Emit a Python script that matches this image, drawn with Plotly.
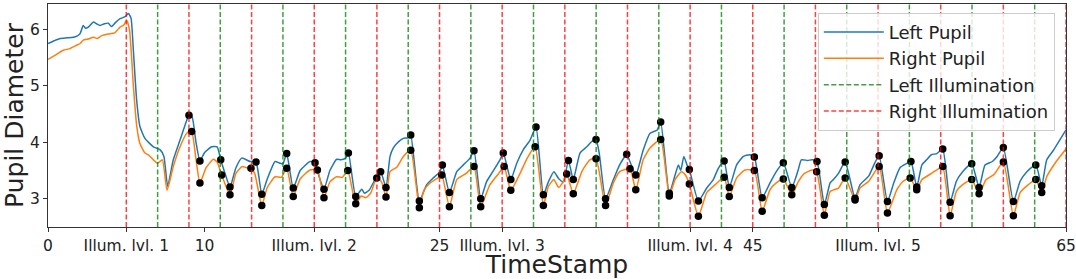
import plotly.graph_objects as go

# ---------------- data ----------------
left_t = [0, 0.4, 0.77, 1.2, 1.62, 1.85, 2.04, 2.25, 2.4, 2.57, 2.9, 3.1, 3.32, 3.6, 3.85, 4.05, 4.3, 4.6, 4.9, 5.13,
          5.3, 5.45, 5.66, 5.87, 6.19, 6.73, 7.15, 7.4, 7.64, 8.0, 8.43, 8.86, 9.0, 9.2, 9.45, 9.7, 10.0, 10.45, 10.8,
          11.03, 11.3, 11.62, 12.0, 12.37, 12.9, 13.28, 13.65, 14.0, 14.5, 14.8, 15.0, 15.24, 15.66, 16.1, 16.73,
          17.05, 17.3, 17.62, 18.0, 18.43, 18.7, 19.0, 19.18, 19.65, 20.03, 20.2, 20.5, 20.9, 21.24, 21.58, 21.84,
          22.05, 22.27, 22.69, 23.0, 23.16, 23.71, 24.18, 24.6, 25.03, 25.18, 25.63, 26.1, 26.52, 26.95, 27.2, 27.63,
          28.0, 28.4, 28.86, 29.07, 29.55, 29.93, 30.35, 30.78, 31.16, 31.63, 31.95, 32.3, 32.6, 32.9, 33.23, 33.54,
          33.97, 34.4, 34.7, 34.99, 35.2, 35.6, 36.1, 36.5, 36.95, 37.1, 37.53, 38.0, 38.44, 38.9, 39.12, 39.67,
          40.04, 40.25, 40.4, 40.6, 40.8, 40.95, 41.53, 42.06, 42.48, 42.8, 43.17, 43.5, 43.97, 44.4, 44.8, 45.1,
          45.6, 46.1, 46.5, 46.95, 47.49, 47.9, 48.1, 48.5, 48.8, 49.1, 49.57, 49.94, 50.15, 50.47, 50.9, 51.53,
          51.85, 52.4, 52.8, 53.07, 53.6, 54.0, 54.4, 54.8, 55.1, 55.47, 55.8, 56.1, 56.4, 56.75, 57.13, 57.6, 58.0,
          58.4, 58.98, 59.45, 59.83, 60.3, 60.6, 61.0, 61.64, 62.07, 62.5, 63.07, 63.45, 63.77, 64.2, 65.0]
left_v = [5.75, 5.8, 5.84, 5.85, 5.86, 5.88, 5.92, 6.07, 6.02, 6.04, 6.13, 6.1, 6.07, 6.1, 6.11, 6.05, 6.12, 6.19, 6.22, 6.28,
          6.2, 5.63, 4.75, 4.28, 4.07, 3.92, 3.87, 3.75, 3.22, 3.69, 4.04, 4.39, 4.48, 4.45, 4.0, 3.67, 3.82, 3.92, 3.92,
          3.69, 3.45, 3.21, 3.55, 3.72, 3.66, 3.65, 3.08, 3.35, 3.66, 3.63, 3.62, 3.8, 3.19, 3.5, 3.66,
          3.64, 3.4, 3.17, 3.5, 3.7, 3.69, 3.72, 3.81, 3.04, 3.17, 3.1, 3.15, 3.35, 3.48, 3.2, 3.75,
          3.9, 3.98, 4.07, 4.08, 4.13, 2.96, 3.25, 3.37, 3.48, 3.6, 3.11, 3.48, 3.6, 3.72, 3.85, 3.0,
          3.3, 3.48, 3.69, 3.81, 3.34, 3.63, 3.87, 4.04, 4.27, 3.07, 3.3, 3.48, 3.36, 3.3, 3.68, 3.34,
          3.81, 3.92, 4.01, 4.05, 3.8, 3.0, 3.34, 3.6, 3.79, 3.7, 3.42, 3.86, 4.16, 4.22, 4.36, 3.1,
          3.42, 3.6, 3.5, 3.75, 3.6, 3.52, 2.96, 3.19, 3.34, 3.54, 3.67, 3.2, 3.6, 3.75, 3.78, 3.74,
          3.02, 3.28, 3.48, 3.64, 3.2, 3.51, 3.69, 3.68, 3.69, 3.66, 2.9, 3.28, 3.34, 3.45, 3.65, 3.01,
          3.25, 3.4, 3.64, 3.76, 2.95, 3.28, 3.55, 3.62, 3.66, 3.21, 3.6, 3.69, 3.78, 3.8, 3.88, 2.94, 3.31,
          3.48, 3.62, 3.2, 3.6, 3.66, 3.75, 3.91, 2.95, 3.31, 3.48, 3.6, 3.23, 3.69, 3.86, 4.22]

right_t = [0, 0.5, 0.98, 1.4, 1.83, 2.05, 2.25, 2.57, 2.9, 3.15, 3.43, 3.85, 4.26, 4.6, 4.85, 5.02, 5.2, 5.45, 5.66,
           5.87, 6.19, 6.45, 6.73, 7.0, 7.3, 7.6, 8.0, 8.43, 8.86, 9.17, 9.45, 9.7, 10.1, 10.56, 10.8, 11.09, 11.62,
           12.0, 12.4, 12.7, 12.96, 13.2, 13.65, 14.0, 14.5, 14.9, 15.24, 15.66, 16.1, 16.73, 17.2, 17.62, 18.0,
           18.43, 18.8, 19.14, 19.65, 20.0, 20.3, 20.6, 20.99, 21.3, 21.58, 21.84, 22.27, 22.69, 23.16, 23.71, 24.0,
           24.4, 24.9, 25.14, 25.63, 26.1, 26.7, 27.2, 27.63, 28.2, 28.75, 29.12, 29.55, 30.14, 30.6, 31.1, 31.63,
           31.95, 32.3, 32.6, 32.85, 33.12, 33.54, 34.1, 34.6, 34.99, 35.6, 36.1, 36.5, 37.16, 37.53, 38.0, 38.44,
           39.12, 39.67, 40.04, 40.45, 40.7, 40.95, 41.53, 42.06, 42.6, 43.17, 43.5, 43.97, 44.5, 45.1, 45.6, 46.1,
           46.5, 46.95, 47.49, 47.9, 48.3, 48.8, 49.08, 49.57, 49.94, 50.47, 50.9, 51.53, 51.85, 52.4, 53.07, 53.6,
           54.2, 54.6, 55.05, 55.47, 55.8, 56.3, 56.75, 57.13, 57.6, 58.0, 58.4, 58.98, 59.45, 59.9, 60.4, 61.0,
           61.64, 62.07, 62.6, 63.07, 63.45, 63.77, 64.3, 65.0]
right_v = [5.47, 5.55, 5.63, 5.66, 5.72, 5.75, 5.81, 5.83, 5.86, 5.84, 5.89, 5.92, 5.94, 6.04, 6.08, 6.16, 6.0, 5.0, 4.3,
           3.98, 3.81, 3.77, 3.69, 3.63, 3.69, 3.15, 3.57, 3.92, 4.16, 4.19, 3.7, 3.28, 3.55, 3.7, 3.65, 3.42, 3.07,
           3.45, 3.57, 3.55, 3.54, 3.45, 2.88, 3.2, 3.39, 3.38, 3.54, 3.04, 3.35, 3.51, 3.51, 3.02, 3.3,
           3.39, 3.38, 3.5, 2.91, 3.05, 3.02, 3.1, 3.37, 3.3, 3.03, 3.48, 3.56, 3.75, 3.86, 2.84, 3.15,
           3.28, 3.37, 3.42, 2.86, 3.34, 3.45, 3.57, 2.86, 3.24, 3.44, 3.57, 3.15, 3.45, 3.72, 3.92, 2.88,
           3.22, 3.34, 3.2, 3.28, 3.44, 3.09, 3.49, 3.69, 3.71, 2.88, 3.28, 3.48, 3.53, 3.16, 3.69, 3.9,
           4.05, 3.05, 3.34, 3.48, 3.42, 3.26, 2.69, 3.11, 3.25, 3.38, 3.04, 3.37, 3.51, 3.5, 2.78, 3.16,
           3.28, 3.35, 3.07, 3.3, 3.45, 3.51, 3.48, 2.71, 3.13, 3.19, 3.37, 2.98, 3.19, 3.31, 3.57, 2.75,
           3.16, 3.31, 3.37, 3.16, 3.34, 3.43, 3.51, 3.57, 2.7, 3.13, 3.25, 3.34, 3.09, 3.34, 3.43, 3.65,
           2.7, 3.11, 3.25, 3.34, 3.11, 3.39, 3.63, 3.88]

left_dot_t = [9.0, 9.7, 11.03, 11.62, 13.28, 13.65, 15.24, 15.66, 17.05, 17.62, 19.18, 19.65, 21.24, 21.58, 23.16,
              23.71, 25.18, 25.63, 27.2, 27.63, 29.07, 29.55, 31.16, 31.63, 33.23, 33.54, 34.99, 35.6, 36.95, 37.53,
              39.12, 39.67, 40.95, 41.53, 43.17, 43.5, 45.1, 45.6, 46.95, 47.49, 49.1, 49.57, 50.9, 51.53, 53.07,
              53.6, 55.1, 55.47, 57.13, 57.6, 58.98, 59.45, 61.0, 61.64, 63.07, 63.45]
left_dot_v = [4.48, 3.67, 3.69, 3.21, 3.65, 3.08, 3.8, 3.19, 3.64, 3.17, 3.81, 3.04, 3.48, 3.2, 4.13,
              2.96, 3.6, 3.11, 3.85, 3.0, 3.81, 3.34, 4.27, 3.07, 3.68, 3.34, 4.05, 3.0, 3.79, 3.42,
              4.36, 3.1, 3.52, 2.96, 3.67, 3.2, 3.74, 3.02, 3.64, 3.2, 3.66, 2.9, 3.65, 3.01, 3.76,
              2.95, 3.66, 3.21, 3.88, 2.94, 3.62, 3.2, 3.91, 2.95, 3.6, 3.23]
right_dot_t = [9.17, 9.7, 11.09, 11.62, 12.96, 13.65, 15.24, 15.66, 17.2, 17.62, 19.14, 19.65, 20.99, 21.58, 23.16,
               23.71, 25.14, 25.63, 27.2, 27.63, 29.12, 29.55, 31.1, 31.63, 33.12, 33.54, 34.99, 35.6, 37.16, 37.53,
               39.12, 39.67, 40.95, 41.53, 43.17, 43.5, 45.1, 45.6, 46.95, 47.49, 49.08, 49.57, 50.9, 51.53, 53.07,
               53.6, 55.05, 55.47, 57.13, 57.6, 58.98, 59.45, 61.0, 61.64, 63.07, 63.45]
right_dot_v = [4.19, 3.28, 3.42, 3.07, 3.54, 2.88, 3.54, 3.04, 3.51, 3.02, 3.5, 2.91, 3.37, 3.03, 3.86,
               2.84, 3.42, 2.86, 3.57, 2.86, 3.57, 3.15, 3.92, 2.88, 3.44, 3.09, 3.71, 2.88, 3.53, 3.16,
               4.05, 3.05, 3.26, 2.69, 3.38, 3.04, 3.5, 2.78, 3.35, 3.07, 3.48, 2.71, 3.37, 2.98, 3.57,
               2.75, 3.37, 3.16, 3.57, 2.7, 3.34, 3.09, 3.65, 2.7, 3.34, 3.11]

left_illum = [7, 11, 15, 19, 23, 27, 31, 35, 39, 43, 47, 51, 55, 59, 63]
right_illum = [5, 9, 13, 17, 21, 25, 29, 33, 37, 41, 45, 49, 53, 57, 61, 65]

tick_vals = [0, 5, 10, 17, 25, 29, 41, 45, 53, 65]
tick_text = ["0", "Illum. lvl. 1", "10", "Illum. lvl. 2", "25", "Illum. lvl. 3",
             "Illum. lvl. 4", "45", "Illum. lvl. 5", "65"]

y_range = [2.5, 6.45]
x_range = [0, 65]

# ---------------- figure ----------------
def vlines(xs):
    X, Y = [], []
    for x in xs:
        X += [x, x, None]
        Y += [y_range[0], y_range[1], None]
    return X, Y

fig = go.Figure()
fig.add_trace(go.Scatter(x=left_t, y=left_v, mode="lines", name="Left Pupil",
                         line=dict(color="#1f77b4", width=1.5, shape="spline", smoothing=0.5),
                         legendrank=1))
fig.add_trace(go.Scatter(x=right_t, y=right_v, mode="lines", name="Right Pupil",
                         line=dict(color="#ff7f0e", width=1.5, shape="spline", smoothing=0.5),
                         legendrank=2))
fig.add_trace(go.Scatter(x=left_dot_t, y=left_dot_v, mode="markers", showlegend=False,
                         marker=dict(color="black", size=7.5, line=dict(width=0))))
fig.add_trace(go.Scatter(x=right_dot_t, y=right_dot_v, mode="markers", showlegend=False,
                         marker=dict(color="black", size=7.5, line=dict(width=0))))
gx, gy = vlines(left_illum)
fig.add_trace(go.Scatter(x=gx, y=gy, mode="lines", name="Left Illumination",
                         line=dict(color="rgba(0,128,0,0.75)", width=1.5, dash="5px,2.5px"),
                         legendrank=3))
rx, ry = vlines(right_illum)
fig.add_trace(go.Scatter(x=rx, y=ry, mode="lines", name="Right Illumination",
                         line=dict(color="rgba(255,0,0,0.75)", width=1.5, dash="5px,2.5px"),
                         legendrank=4))

axis_common = dict(showline=True, linecolor="#333", linewidth=1, mirror=True, automargin=False,
                   ticks="outside", ticklen=4, tickcolor="#333", showgrid=False, zeroline=False,
                   ticklabeloverflow="allow", tickfont=dict(size=15.5, color="#222"))
fig.update_layout(
    width=1076, height=279,
    margin=dict(l=48, r=10, t=4, b=52),
    paper_bgcolor="white", plot_bgcolor="white",
    font=dict(family="DejaVu Sans", color="#222"),
    showlegend=True,
    legend=dict(x=0.989, y=0.961, xanchor="right", yanchor="top",
                bgcolor="rgba(255,255,255,0.8)", bordercolor="#cccccc", borderwidth=1,
                font=dict(size=18), tracegroupgap=0, itemwidth=60),
    xaxis=dict(range=x_range, tickmode="array", tickvals=tick_vals, ticktext=tick_text,
               title=dict(text="TimeStamp", font=dict(size=25), standoff=0), **axis_common),
    yaxis=dict(range=y_range, tickmode="array", tickvals=[3, 4, 5, 6],
               title=dict(text="Pupil Diameter", font=dict(size=25), standoff=4), **axis_common),
)
fig.write_html("out.html", config={"displayModeBar": False},
               post_script="document.body.style.margin='0';")
